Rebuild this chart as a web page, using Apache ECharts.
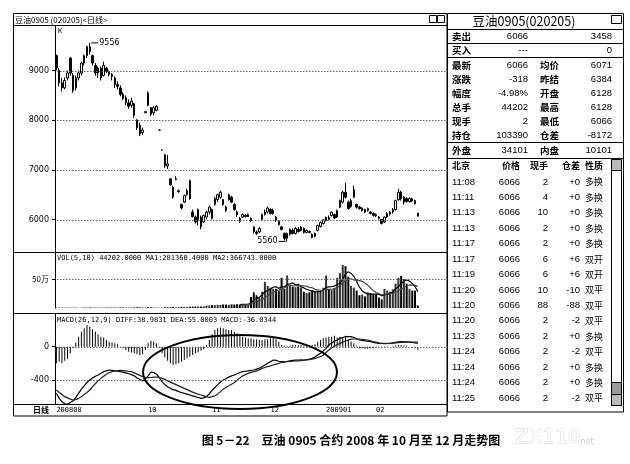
<!DOCTYPE html>
<html><head><meta charset="utf-8">
<script src="https://cdn.jsdelivr.net/npm/echarts@6.0.0/dist/echarts.min.js"></script>
<style>html,body{margin:0;padding:0;background:#fff;}#c{width:630px;height:464px;}</style>
</head><body><div id="c"></div>
<script>
// ---- candle data [open, close, low, high] ----
const ohlc = [
[9300,9050,9000,9320],[9000,8750,8680,9050],[8750,8650,8580,8850],[8650,8800,8620,8860],[8850,8950,8800,9000],
[9250,8950,8900,9270],[8900,8600,8550,8950],[8650,8850,8600,8900],[8850,8950,8800,9000],[8950,9150,8900,9180],
[9150,9300,9100,9320],[9300,9480,9250,9500],[9480,9380,9320,9556],[9300,9150,9100,9320],[9100,8950,8900,9150],
[8950,9050,8850,9080],[9050,8850,8800,9080],[8900,9100,8880,9180],[9050,8980,8950,9080],[8980,8920,8880,9000],
[8920,8880,8800,8950],[8850,8720,8650,8880],[8720,8680,8620,8780],[8650,8520,8480,8700],[8520,8440,8400,8560],
[8450,8350,8300,8500],[8350,8280,8230,8420],[8300,8380,8250,8450],[8330,8100,8050,8350],[8000,7850,7800,8020],
[7900,7720,7680,7950],[7750,7800,7700,7850],[8150,8170,8140,8190],[8550,8300,8280,8580],[8250,8120,8080,8260],
[8150,8250,8100,8280],[8200,8280,8180,8300],[7800,7800,7790,7810],[7400,7400,7390,7410],[7300,7080,7040,7320],
[7080,7120,7020,7300],[6820,6700,6680,6830],[6650,6450,6420,6680],[6800,6820,6790,6870],[6580,6560,6540,6600],
[6300,6230,6200,6320],[6350,6480,6330,6500],[6500,6580,6480,6620],[6780,6420,6400,6800],[6150,6060,6040,6200],
[6050,5950,5920,6080],[6000,6200,5880,6220],[6050,5850,5800,6080],[5950,6080,5930,6100],[6050,6150,6000,6180],
[6150,6250,6100,6280],[6200,6020,6000,6220],[6300,6420,6280,6450],[6400,6500,6350,6520],[6450,6550,6420,6580],
[6400,6300,6280,6420],[6250,6180,6150,6280],[6400,6500,6380,6520],[6450,6350,6330,6480],[6300,6200,6180,6330],
[6150,6100,6050,6180],[6020,5960,5930,6050],[6050,6100,6030,6120],[6080,6060,6040,6110],[6060,6100,6050,6120],
[6020,5980,5950,6040],[5850,5760,5720,5870],[5750,5720,5690,5780],[5750,5820,5730,5840],[6000,6100,5980,6120],
[6100,6150,6080,6200],[6150,6230,6120,6260],[6200,6120,6100,6230],[6120,6180,6100,6220],[6050,5980,5950,6070],
[5960,5900,5880,5980],[5850,5800,5780,5870],[5720,5620,5580,5740],[5620,5720,5560,5740],[5700,5800,5680,5820],
[5780,5720,5700,5820],[5720,5820,5700,5850],[5800,5760,5740,5850],[5780,5850,5760,5870],[5820,5740,5720,5840],
[5740,5780,5720,5800],[5760,5740,5720,5780],[5700,5640,5620,5720],[5660,5720,5640,5740],[5780,5880,5760,5900],
[5860,5940,5840,5960],[5920,5990,5900,6010],[5980,6040,5960,6060],[6040,6000,5980,6080],[6080,6150,6060,6160],
[6100,6030,6010,6120],[6050,6180,6030,6200],[6250,6380,6230,6400],[6350,6550,6320,6580],[6550,6450,6420,6740],
[6350,6220,6200,6380],[6260,6380,6240,6420],[6450,6600,6430,6680],[6300,6250,6220,6320],[6250,6220,6200,6270],
[6180,6230,6160,6250],[6200,6150,6130,6220],[6180,6220,6160,6240],[6150,6120,6100,6170],[6120,6080,6060,6140],
[6100,6080,6050,6120],[6050,6020,6000,6070],[6000,5920,5900,6010],[5950,6050,5930,6060],[6050,6120,6030,6150],
[6110,6150,6080,6170],[6150,6200,6120,6230],[6200,6380,6180,6400],[6400,6550,6380,6620],[6550,6420,6380,6580],
[6350,6450,6300,6470],[6420,6360,6340,6450],[6360,6420,6340,6450],[6420,6380,6350,6440],[6380,6320,6300,6400],
[6128,6066,6066,6128]
];
const volume = [
8000,6000,7000,5000,9000,7000,6000,8000,5000,7000,
9000,8000,10000,7000,6000,8000,7000,6000,9000,8000,
7000,8000,6000,9000,10000,8000,7000,9000,11000,12000,
10000,9000,6000,14000,12000,10000,9000,5000,6000,15000,
14000,12000,18000,10000,12000,20000,18000,16000,22000,25000,
24000,28000,26000,30000,40000,45000,50000,48000,55000,52000,
60000,58000,55000,62000,60000,65000,60000,70000,60000,70000,
190000,270000,220000,180000,280000,450000,380000,350000,330000,330000,
300000,520000,330000,560000,380000,370000,360000,370000,350000,280000,
260000,270000,300000,280000,300000,290000,350000,560000,320000,310000,
340000,520000,600000,740000,720000,540000,380000,350000,300000,220000,
230000,200000,270000,260000,240000,230000,180000,150000,330000,300000,
280000,320000,420000,520000,550000,500000,420000,330000,300000,300000,
44202
];
const volMaStart = 66;
const volMa1 = [58000,62000,62000,64000,
90000,132000,162000,186000,228000,280000,302000,328000,358000,368000,
338000,366000,362000,408000,418000,432000,400000,408000,366000,346000,
324000,306000,292000,278000,282000,288000,304000,356000,364000,366000,
376000,410000,418000,502000,584000,624000,596000,546000,458000,358000,
296000,260000,244000,236000,240000,240000,236000,212000,226000,238000,
248000,276000,330000,368000,418000,462000,482000,464000,420000,370000,
281360];
const volMa2 = [50000,55000,58000,62000,
72000,94000,108000,120000,142000,185000,217000,245000,272000,298000,
309000,334000,345000,383000,393000,385000,383000,385000,387000,382000,
378000,353000,350000,322000,314000,306000,305000,324000,321000,324000,
332000,357000,387000,433000,475000,500000,503000,482000,480000,471000,
460000,428000,395000,347000,299000,268000,248000,228000,231000,239000,
244000,256000,271000,297000,328000,355000,379000,397000,394000,394000,
366743];
const diff = [
-560,-620,-660,-685,-690,-670,-650,-610,-560,-510,
-470,-430,-400,-375,-355,-340,-320,-300,-290,-280,
-285,-290,-295,-300,-305,-315,-325,-335,-350,-375,
-395,-410,-390,-350,-305,-310,-330,-370,-420,-455,
-480,-500,-515,-525,-540,-550,-560,-570,-580,-590,
-600,-610,-620,-615,-600,-565,-525,-490,-455,-425,
-400,-385,-365,-350,-340,-325,-310,-300,-295,-290,
-285,-280,-270,-258,-240,-220,-200,-180,-160,-165,
-175,-180,-178,-175,-170,-165,-162,-160,-158,-160,
-155,-148,-140,-125,-100,-80,-50,-20,20,45,
65,80,100,110,120,122,120,110,95,80,
75,70,65,60,52,45,40,38,36,38,
40,45,52,58,60,58,57,55,50,45,
39];
const dea = [
-520,-550,-575,-600,-615,-630,-640,-635,-620,-600,
-575,-550,-520,-480,-445,-410,-380,-355,-330,-310,
-300,-292,-288,-285,-287,-290,-295,-300,-315,-330,
-345,-360,-368,-372,-370,-365,-365,-370,-380,-392,
-410,-425,-440,-455,-470,-485,-500,-515,-530,-545,
-558,-570,-580,-590,-600,-608,-600,-590,-570,-540,
-510,-490,-470,-450,-430,-405,-375,-350,-335,-320,
-308,-300,-290,-275,-260,-250,-240,-230,-220,-210,
-200,-190,-185,-180,-178,-175,-172,-170,-168,-165,
-160,-155,-150,-140,-130,-120,-100,-70,-40,-15,
5,25,40,55,68,80,90,92,92,90,
86,82,78,70,62,55,45,42,40,40,
40,42,45,48,50,52,54,55,55,55,
55];
const macd = [
-200,-180,-200,-170,-150,-80,-20,50,120,180,
220,260,240,210,180,150,120,110,80,60,
50,40,30,-10,-20,-40,-60,-70,-80,-90,
-100,-90,-40,40,70,60,40,-20,-80,-130,
-170,-200,-220,-210,-200,-180,-160,-140,-120,-100,
-80,-70,-50,-30,20,80,150,200,220,230,
220,210,200,200,180,160,140,120,110,100,
100,90,90,80,80,90,90,100,110,90,
60,20,15,10,15,20,20,20,20,10,
10,15,20,30,60,80,100,110,120,120,
130,110,120,110,130,90,60,40,10,-20,
-20,-25,-25,-20,-20,-20,-10,-10,-10,-5,
0,5,15,20,20,15,10,0,-10,-20,
-36];
// ---- tick labels ----
const priceTicks = [6000, 7000, 8000, 9000];
const volTicks = [500000];
const volTickLabels = ['50万'];
const macdTicks = [0, -400];
const monthLabels = ['200808', '10', '11', '12', '200901', '02'];
const monthStarts = [0, 33, 56, 77, 97, 115];
const highPoint = {idx: 12, value: 9556};
const lowPoint = {idx: 83, value: 5560};
// ---- quote panel ----
const panelTitle = '豆油0905(020205)';
const sellRow = ['卖出', '6066', '3458'];
const buyRow = ['买入', '---', '0'];
const quoteLabelsL = ['最新', '涨跌', '幅度', '总手', '现手', '持仓'];
const quoteValuesL = ['6066', '-318', '-4.98%', '44202', '2', '103390'];
const quoteLabelsR = ['均价', '昨结', '开盘', '最高', '最低', '仓差'];
const quoteValuesR = ['6071', '6384', '6128', '6128', '6066', '-8172'];
const outerRow = ['外盘', '34101', '内盘', '10101'];
const tickHeader = ['北京', '价格', '现手', '仓差', '性质'];
const tickTimes = ['11:08','11:11','11:13','11:13','11:17','11:17','11:19','11:20','11:20','11:20','11:23','11:24','11:24','11:24','11:25'];
const tickPrices = ['6066','6066','6066','6066','6066','6066','6066','6066','6066','6066','6066','6066','6066','6066','6066'];
const tickVols = ['2','4','10','2','2','6','6','10','88','2','2','2','2','2','2'];
const tickOI = ['+0','+0','+0','+0','+0','+6','+6','-10','-88','-2','+0','-2','+0','+0','-2'];
const tickType = ['多换','多换','多换','多换','多换','双开','双开','双平','双平','双平','多换','双平','多换','多换','双平'];
const headerText = '豆油0905 (020205)<日线>';
const volText = 'VOL(5,10) 44202.0000 MA1:281360.4000 MA2:366743.0000';
const macdText = 'MACD(26,12,9) DIFF:38.9831 DEA:55.0003 MACD:-36.0344';
const caption = '图 5－22　豆油 0905 合约 2008 年 10 月至 12 月走势图';

// ---- layout ----
const slotCount = 141;
const categories = Array.from({length: slotCount}, (_, i) => String(i));
const padStart = (arr, start) => Array.from({length: start}, () => null).concat(arr);
const grids = [
  {left: 55, top: 26, width: 392, height: 226},
  {left: 55, top: 252, width: 392, height: 56},
  {left: 55, top: 314, width: 392, height: 90}
];
const yRanges = [[5346, 9896], [0, 965000], [-688, 392]];

const chart = echarts.init(document.getElementById('c'));
const SANS = 'DejaVu Sans, sans-serif';
const MONO = 'DejaVu Sans Mono, monospace';
const CJK = 'Noto Sans CJK SC, sans-serif';
const NUM = 'Liberation Sans, Arial, sans-serif';

const G = [];
const T = (x, y, s, o) => G.push({type: 'text', silent: true, z: 60, style: Object.assign({text: s, x: x, y: y, fill: '#000', fontSize: 9, fontFamily: SANS, align: 'left', verticalAlign: 'middle'}, o || {})});
const Ln = (x1, y1, x2, y2, w, c) => G.push({type: 'line', silent: true, z: 50, shape: {x1, y1, x2, y2}, style: {stroke: c || '#000', lineWidth: w || 1}});
const R = (x, y, w, h, o) => G.push({type: 'rect', silent: true, z: 50, shape: {x, y, width: w, height: h}, style: Object.assign({fill: 'transparent', stroke: '#000', lineWidth: 1}, o || {})});

// left panel frame
R(13.5, 13.5, 433.5, 402.5);
Ln(13, 25.5, 447, 25.5);
Ln(13, 252.5, 447, 252.5);
Ln(13, 313.5, 447, 313.5);
Ln(13, 404.5, 447, 404.5);
T(15, 19.5, headerText, {fontSize: 8, fontFamily: CJK});
R(429.5, 15.5, 7, 7); R(437.5, 15.5, 7, 7);
T(58, 31, 'K', {fontSize: 7, fontFamily: MONO});
T(57, 258, volText, {fontSize: 7, fontFamily: MONO});
T(57, 320.5, macdText, {fontSize: 7, fontFamily: MONO});
T(33, 410, '日线', {fontSize: 8, fontFamily: CJK, fontWeight: 'bold'});
// hand-drawn ellipse annotation
G.push({type: 'ellipse', silent: true, z: 80, shape: {cx: 240, cy: 372, rx: 97, ry: 37}, style: {fill: 'transparent', stroke: '#000', lineWidth: 2}});

// right panel
R(447.5, 13.5, 176, 398.5);
T(524, 21.5, panelTitle, {fontSize: 12.5, fontFamily: CJK, align: 'center'});
R(611.5, 15.5, 10, 8);
Ln(447, 29.5, 624, 29.5);
Ln(447, 43.5, 624, 43.5);
Ln(447, 57.5, 624, 57.5);
Ln(447, 142.5, 624, 142.5);
Ln(447, 158.5, 624, 158.5);
const lblX = 452, v1X = 528, l2X = 540, v2X = 612;
const qf = {fontSize: 9.5, fontFamily: NUM};
const cf = {fontSize: 9.5, fontFamily: CJK, fontWeight: 'bold'};
T(lblX, 36.5, sellRow[0], cf); T(v1X, 36.5, sellRow[1], Object.assign({align: 'right'}, qf)); T(v2X, 36.5, sellRow[2], Object.assign({align: 'right'}, qf));
T(lblX, 50.5, buyRow[0], cf); T(v1X, 50.5, buyRow[1], Object.assign({align: 'right'}, qf)); T(v2X, 50.5, buyRow[2], Object.assign({align: 'right'}, qf));
quoteLabelsL.forEach((l, k) => {
  const y = 65 + k * 14;
  T(lblX, y, l, cf);
  T(v1X, y, quoteValuesL[k], Object.assign({align: 'right'}, qf));
  T(l2X, y, quoteLabelsR[k], cf);
  T(v2X, y, quoteValuesR[k], Object.assign({align: 'right'}, qf));
});
T(lblX, 150.5, outerRow[0], cf); T(v1X, 150.5, outerRow[1], Object.assign({align: 'right'}, qf));
T(l2X, 150.5, outerRow[2], cf); T(v2X, 150.5, outerRow[3], Object.assign({align: 'right'}, qf));
// tick table
const hf = {fontSize: 9, fontFamily: CJK, fontWeight: 'bold'};
T(452, 166, tickHeader[0], hf);
T(520, 166, tickHeader[1], Object.assign({align: 'right'}, hf));
T(548, 166, tickHeader[2], Object.assign({align: 'right'}, hf));
T(580, 166, tickHeader[3], Object.assign({align: 'right'}, hf));
T(585, 166, tickHeader[4], hf);
tickTimes.forEach((t, k) => {
  const y = 182 + k * 15.43;
  T(452, y, t, qf);
  T(520, y, tickPrices[k], Object.assign({align: 'right'}, qf));
  T(548, y, tickVols[k], Object.assign({align: 'right'}, qf));
  T(580, y, tickOI[k], Object.assign({align: 'right'}, qf));
  T(585, y, tickType[k], {fontSize: 9, fontFamily: CJK});
});
// scrollbar
R(611.5, 159.5, 10, 246);
R(611.5, 159.5, 10, 11, {fill: '#bbb'});
R(611.5, 382.5, 10, 12, {fill: '#999'});
R(611.5, 394.5, 10, 11, {fill: '#bbb'});
// caption & watermark
T(351, 440, caption, {fontSize: 12, fontFamily: CJK, fontWeight: 'bold', align: 'center'});
T(515, 438, 'ZX110', {fontSize: 20, fontFamily: SANS, fill: '#fff', stroke: '#d8d8d8', lineWidth: 1});
T(578, 442, '.net', {fontSize: 8, fontFamily: SANS, fill: '#ccc'});

const xAx = g => ({
  type: 'category', gridIndex: g, data: categories, boundaryGap: true,
  axisLine: {show: false}, axisTick: {show: false}, splitLine: {show: false},
  axisLabel: g === 2 ? {
    show: true, interval: 0, align: 'left', margin: 3, fontSize: 7, fontFamily: MONO, color: '#000',
    formatter: (v, idx) => { const k = monthStarts.indexOf(idx); return k >= 0 ? monthLabels[k] : ''; }
  } : {show: false}
});

const yLabel = {fontSize: 8, fontFamily: SANS, color: '#000', margin: 6, formatter: v => String(v)};
const yAx = (g, ticks, extra) => ({
  type: 'value', gridIndex: g, min: yRanges[g][0], max: yRanges[g][1], splitLine: {show: false},
  axisLine: {show: true, lineStyle: {color: '#000', width: 1}},
  axisTick: {show: true, length: 3, customValues: ticks, lineStyle: {color: '#000'}},
  axisLabel: Object.assign({}, yLabel, {customValues: ticks}, extra || {})
});

const option = {
  animation: false,
  grid: grids,
  xAxis: [xAx(0), xAx(1), xAx(2)],
  yAxis: [
    yAx(0, priceTicks),
    yAx(1, volTicks, {fontFamily: CJK, formatter: v => volTickLabels[volTicks.indexOf(v)] || ''}),
    yAx(2, macdTicks)
  ],
  series: [
    {type: 'candlestick', xAxisIndex: 0, yAxisIndex: 0, data: ohlc, barWidth: 2,
     itemStyle: {color: '#fff', color0: '#000', borderColor: '#000', borderColor0: '#000', borderWidth: 1},
     markPoint: {
       symbol: 'rect', symbolSize: [7, 1], silent: true, animation: false,
       itemStyle: {color: '#000'},
       label: {show: true, color: '#000', fontSize: 8, fontFamily: SANS},
       data: [
         {coord: [String(highPoint.idx), highPoint.value], symbolOffset: [5, 0], label: {position: 'right', distance: 1, formatter: String(highPoint.value)}},
         {coord: [String(lowPoint.idx), lowPoint.value], symbolOffset: [-5, 0], label: {position: 'left', distance: 1, formatter: String(lowPoint.value)}}
       ]
     }},
    {type: 'bar', xAxisIndex: 1, yAxisIndex: 1, data: volume, barWidth: 2,
     itemStyle: {color: p => (ohlc[p.dataIndex][1] >= ohlc[p.dataIndex][0] ? '#333' : '#000')}},
    {type: 'line', xAxisIndex: 1, yAxisIndex: 1, data: padStart(volMa1, volMaStart), symbol: 'none',
     lineStyle: {color: '#000', width: 1.2}},
    {type: 'line', xAxisIndex: 1, yAxisIndex: 1, data: padStart(volMa2, volMaStart), symbol: 'none',
     lineStyle: {color: '#444', width: 1.2}},
    {type: 'bar', xAxisIndex: 2, yAxisIndex: 2, data: macd, barWidth: 1,
     itemStyle: {color: '#000'}},
    {type: 'line', xAxisIndex: 2, yAxisIndex: 2, data: diff, symbol: 'none', lineStyle: {color: '#000', width: 1.2}},
    {type: 'line', xAxisIndex: 2, yAxisIndex: 2, data: dea, symbol: 'none', lineStyle: {color: '#222', width: 1.2}}
  ]
};
chart.setOption(option);

// dotted horizontal grid lines at the tick values (y from the axis scale; linear fallback on the same extent)
const yPixel = (g, v) => {
  let y = NaN;
  try { y = Number(chart.convertToPixel({yAxisIndex: g}, v)); } catch (e) { y = NaN; }
  if (!isFinite(y)) {
    const [lo, hi] = yRanges[g];
    y = grids[g].top + (hi - v) / (hi - lo) * grids[g].height;
  }
  return Math.round(y);
};
const dots = [];
[[0, priceTicks], [1, volTicks], [2, macdTicks]].forEach(([g, vals]) => vals.forEach(v => {
  const y = yPixel(g, v);
  for (let x = grids[g].left + 2; x < grids[g].left + grids[g].width; x += 3) {
    dots.push({type: 'rect', silent: true, z: 45, shape: {x: x, y: y, width: 1.5, height: 1}, style: {fill: '#666'}});
  }
}));
chart.setOption({graphic: G.concat(dots)});
</script></body></html>
